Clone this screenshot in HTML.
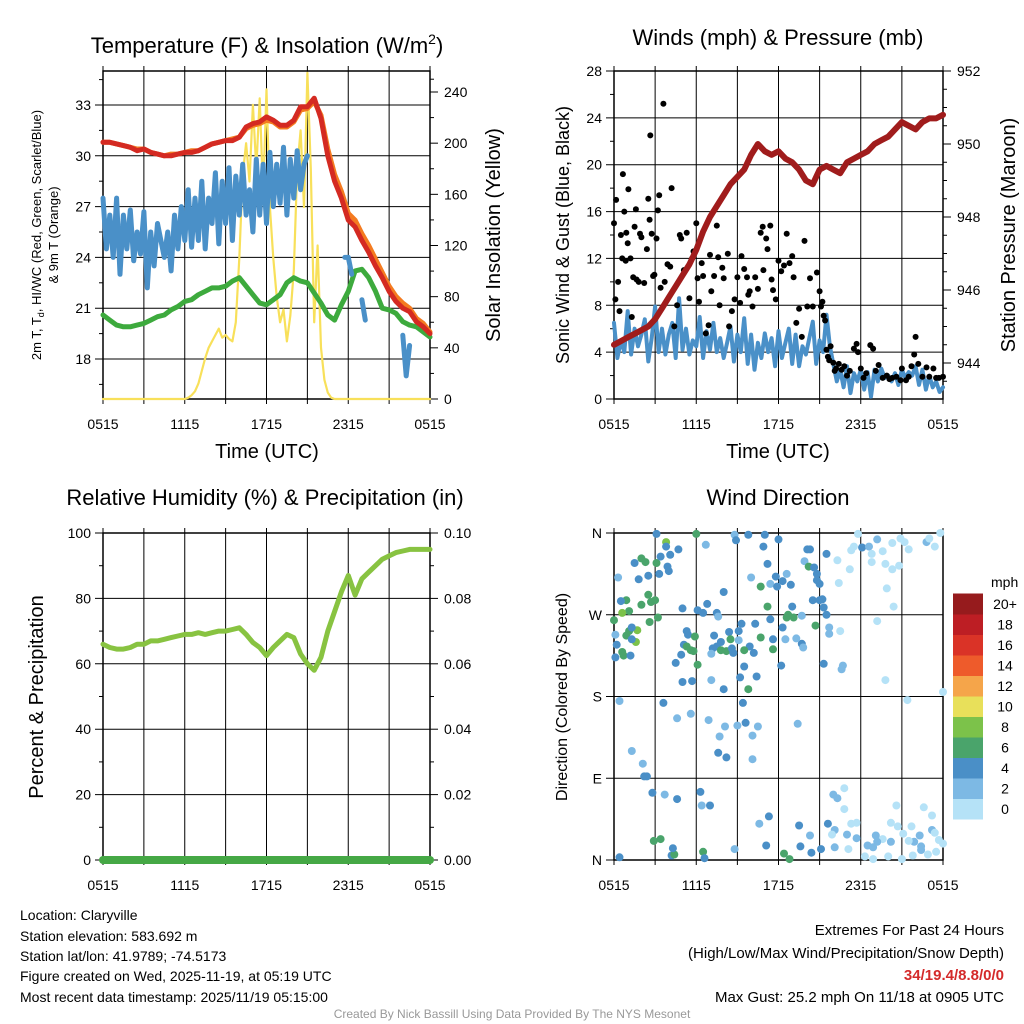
<!DOCTYPE html>
<html><head><meta charset="utf-8"><title>Mesonet Station Meteogram</title>
<style>
html,body{margin:0;padding:0;background:#fff;}
svg{display:block;font-family:"Liberation Sans",Arial,sans-serif;}
</style></head>
<body>
<svg id="chart" width="1024" height="1024" viewBox="0 0 1024 1024" xmlns="http://www.w3.org/2000/svg">
<rect x="0" y="0" width="1024" height="1024" fill="#fff"/>
<text x="267" y="53" font-size="22" text-anchor="middle">Temperature (F) &amp; Insolation (W/m<tspan font-size="14" dy="-9">2</tspan><tspan dy="9">)</tspan></text>
<text x="778" y="45" font-size="22" text-anchor="middle">Winds (mph) &amp; Pressure (mb)</text>
<text x="265" y="505" font-size="22" text-anchor="middle">Relative Humidity (%) &amp; Precipitation (in)</text>
<text x="778" y="505" font-size="22" text-anchor="middle">Wind Direction</text>

<text transform="translate(41,235) rotate(-90)" font-size="13" text-anchor="middle">2m T, T<tspan font-size="9" dy="3">d</tspan><tspan dy="-3">, HI/WC (Red, Green, Scarlet/Blue)</tspan></text>
<text transform="translate(58,235) rotate(-90)" font-size="13" text-anchor="middle">&amp; 9m T (Orange)</text>
<text transform="translate(500,235) rotate(-90)" font-size="20" text-anchor="middle">Solar Insolation (Yellow)</text>
<text transform="translate(569,235) rotate(-90)" font-size="18" text-anchor="middle">Sonic Wind &amp; Gust (Blue, Black)</text>
<text transform="translate(1015,235) rotate(-90)" font-size="20" text-anchor="middle">Station Pressure (Maroon)</text>
<text transform="translate(43,697) rotate(-90)" font-size="20" text-anchor="middle">Percent &amp; Precipitation</text>
<text transform="translate(567,697) rotate(-90)" font-size="16" text-anchor="middle">Direction (Colored By Speed)</text>
<text x="267" y="458" font-size="20" text-anchor="middle">Time (UTC)</text>
<text x="778" y="458" font-size="20" text-anchor="middle">Time (UTC)</text>

<g font-size="14">
<text x="20" y="920">Location: Claryville</text>
<text x="20" y="941">Station elevation: 583.692 m</text>
<text x="20" y="961">Station lat/lon: 41.9789; -74.5173</text>
<text x="20" y="981">Figure created on Wed, 2025-11-19, at 05:19 UTC</text>
<text x="20" y="1002">Most recent data timestamp: 2025/11/19 05:15:00</text>
</g>
<g font-size="15" text-anchor="end">
<text x="1004" y="935">Extremes For Past 24 Hours</text>
<text x="1004" y="958">(High/Low/Max Wind/Precipitation/Snow Depth)</text>
<text x="1004" y="980" fill="#d42a2a" font-weight="bold">34/19.4/8.8/0/0</text>
<text x="1004" y="1002">Max Gust: 25.2 mph On 11/18 at 0905 UTC</text>
</g>
<text x="512" y="1018" font-size="12" fill="#999" text-anchor="middle">Created By Nick Bassill Using Data Provided By The NYS Mesonet</text>
<g id="plots"></g>
</svg>
<script>
// ---------------- data ----------------
const timeTickLabels = ["0515","1115","1715","2315","0515"];
const tempTicks = [18,21,24,27,30,33];
const solarTicks = [0,40,80,120,160,200,240];
const windTicks = [0,4,8,12,16,20,24,28];
const pressTicks = [944,946,948,950,952];
const rhTicks = [0,20,40,60,80,100];
const precipTicks = [0,0.02,0.04,0.06,0.08,0.10];
const precipTickLabels = ["0.00","0.02","0.04","0.06","0.08","0.10"];
const dirTicks = [0,90,180,270,360];
const dirTickLabels = ["N","E","S","W","N"];
const speedBinLabels = ["0","2","4","6","8","10","12","14","16","18","20+"];
const speedBinColors = ["#b5e2f7","#7db9e4","#4a8fc7","#4aa46b","#7cc24a","#e8e05a","#f5a54a","#ee5b2b","#da3327","#bd1e24","#961b1d"];

// half-hourly series (49 values, hours 0..24)
const temp2m = [30.8,30.8,30.7,30.6,30.5,30.3,30.4,30.2,30.1,30.0,30.0,30.1,30.2,30.2,30.3,30.5,30.7,30.8,30.9,30.9,31.1,31.7,31.9,32.0,32.3,32.1,31.8,31.8,32.1,32.9,32.9,33.4,32.2,30.0,28.5,27.5,26.2,25.8,25.0,24.3,23.5,22.8,22.0,21.4,21.0,20.8,20.2,19.9,19.5];
const temp9m = [30.8,30.8,30.7,30.6,30.5,30.4,30.4,30.2,30.1,30.0,30.1,30.1,30.2,30.3,30.3,30.5,30.7,30.8,30.9,31.0,31.1,31.6,31.8,31.9,32.1,32.0,31.7,31.7,32.0,32.7,32.8,33.2,32.4,30.4,28.9,27.9,26.6,26.2,25.4,24.7,23.9,23.1,22.3,21.7,21.3,21.0,20.4,20.1,19.6];
const dewpoint = [20.6,20.3,20.0,19.9,19.9,20.0,20.1,20.3,20.5,20.6,20.9,21.1,21.4,21.5,21.8,22.0,22.2,22.2,22.3,22.6,22.8,22.3,21.8,21.3,21.2,21.5,21.8,22.5,22.8,22.6,22.5,21.9,21.3,20.6,20.3,21.2,22.0,23.2,23.3,22.8,22.0,21.0,20.9,20.7,20.2,20.0,19.9,19.6,19.3];
const pressure = [944.5,944.6,944.7,944.8,944.9,945.0,945.2,945.5,945.8,946.1,946.4,946.7,947.1,947.6,948.0,948.3,948.6,948.9,949.1,949.3,949.7,950.0,949.8,949.7,949.8,949.6,949.5,949.3,949.0,948.9,949.3,949.4,949.3,949.2,949.5,949.6,949.7,949.8,950.0,950.1,950.2,950.4,950.6,950.5,950.4,950.6,950.7,950.7,950.8];
const humidity = [66,65,64.5,64.5,65,66,66,67,67,67.5,68,68.5,69,69,69.5,69,69.5,70,70,70.5,71,69,66.5,65,62.5,65,67,69,68,63,60,58,62,70,76,82,87,81,86,88,90,92,93,94,94.5,95,95,95,95];
const precip = [0,0,0,0,0,0,0,0,0,0,0,0,0,0,0,0,0,0,0,0,0,0,0,0,0];

// quarter-hourly series (97 values)
const solar = [0,0,0,0,0,0,0,0,0,0,0,0,0,0,0,0,0,0,0,0,0,0,0,0,
 0,1,3,6,12,22,32,40,45,50,55,48,50,47,45,60,110,175,200,170,230,180,235,160,242,150,110,80,60,70,45,65,100,180,210,150,255,180,60,120,40,15,5,1,0,
 0,0,0,0,0,0,0,0,0,0,0,0,0,0,0,0,0,0,0,0,0,0,0,0,0,0,0,0];
const windChill = [27.5,24.5,26.5,24,27.5,23,26.5,24.5,26.8,23.8,25.5,24.2,26.7,22.2,25.5,23.5,
 26,25,24,25.5,23.2,26.5,24.5,27,25,28,24.6,27.5,25,28.5,24.5,27.5,
 26,29,24.8,28.5,26,29.3,25,28.8,26.5,29.5,26.5,28,25.5,29.8,26.5,29.5,
 26,30.2,27,29.5,27.2,30.5,26.5,29.8,27.5,30.3,28,29.5,30,null,28.5,null,
 28.7,null,null,null,26.5,null,null,24,24,23,null,null,21.5,20.3,null,null,
 null,null,null,null,null,null,null,null,19.4,17,18.8,null,null,null,null,null,null];
const sonicWind = [6.5,3.5,5,4,7.5,3.8,6,4.5,5.5,6.8,3.2,5.2,7.9,4,6,3.8,
 5.5,6.5,3.5,8.6,4.2,6,3.8,5,4.5,7,3.5,5.8,4.2,6.5,4,5.2,
 3.5,4.8,6.2,3.2,5.5,4,6.9,3,5.5,2.5,4.8,3.5,5.6,4,5.2,2.8,
 5.8,3.5,4.8,6,3,5.5,2.8,4.5,3.8,5.2,6.6,3,5,4,7.2,4.5,
 3,1.5,2.5,1,2.8,0.5,2.2,1.5,2.5,0.8,2.3,0.2,2.5,1.5,2.6,1.8,
 2,1.5,2.2,1.2,2.5,1.8,2.3,2,2.8,1.2,2.5,0.8,2,1,1.5,0.6,1];

// gusts
const gustHours = [0,0.1,0.15,0.3,0.4,0.5,0.6,0.65,0.75,0.85,0.9,1.0,1.05,1.2,1.3,1.4,1.5,1.6,1.65,1.8,1.9,2.0,2.2,2.4,2.5,2.6,2.65,2.75,2.85,2.95,3.1,3.2,3.3,3.4,3.6,3.7,3.9,4.1,4.2,4.4,4.6,4.8,4.9,5.1,5.3,5.5,5.7,5.8,6.0,6.1,6.2,6.4,6.5,6.7,6.9,7.0,7.1,7.3,7.5,7.6,7.7,7.9,8.0,8.3,8.4,8.6,8.8,9.0,9.2,9.3,9.5,9.7,9.8,9.9,10.1,10.3,10.5,10.7,10.85,10.9,11.1,11.2,11.4,11.5,11.6,11.8,12.0,12.2,12.4,12.6,12.8,13.0,13.1,13.3,13.5,13.7,13.9,14.1,14.3,14.5,14.8,15.0,15.1,15.2,15.3,15.4,15.5,15.6,15.7,15.8,16.0,16.1,16.2,16.4,16.6,16.8,17.0,17.2,17.5,17.7,17.8,18.0,18.2,18.4,18.7,18.9,19.1,19.3,19.6,19.9,20.1,20.3,20.6,20.9,21.0,21.3,21.5,21.7,21.9,22.0,22.2,22.5,22.8,23.0,23.3,23.5,23.7,24];
const gustValues = [15,8.5,17,10,7.5,14,12,19.2,16,11.8,14.2,13.3,17.9,12,7,10.4,14.7,16.2,10.2,10,14.1,13.8,9.9,12.8,17.1,15.3,22.5,14.1,10.5,10.6,13.7,16.1,17.4,9.5,25.2,10,11.5,11.3,18,6.2,8,14,13.7,11,14.2,8.6,12,12.6,15,10.3,8.3,11.6,10.5,5.6,6.3,12.3,9.2,10.5,14.8,12.1,8,11.2,10.3,12.4,6.2,7.5,8.5,10.4,8.2,12.2,11.1,10.4,8.9,9.2,7.9,10.4,9.4,14.2,14.7,11,13.7,12.8,14.8,10.2,9.3,8.5,11.8,10.9,11.4,14.1,11.6,12.2,10.4,6.5,7.7,5.3,13.5,7.9,10.3,7.9,10.8,9.2,7.9,8.3,7.1,6.7,4.2,3.6,3.3,4.5,3.1,2.4,2.6,3.0,2.5,2.8,2.0,2.4,4.3,4.7,4.0,2.6,1.8,2.2,4.6,4.3,2.4,2.9,1.8,2.0,1.7,1.8,1.9,1.6,2.6,1.6,1.9,2.8,3.8,5.3,3.0,1.9,2.7,1.9,2.6,1.8,1.8,1.9];

// wind direction scatter
const dirHours = [3.1,3.8,3.8,4.7,1.5,2.0,2.3,3.1,3.4,4.1,3.9,4.0,3.3,2.5,1.8,0.3,2.5,2.7,3.0,2.0,0.9,0.5,1.1,0.6,0.0,2.6,3.2,0.1,0.2,0.1,0.9,1.1,1.7,1.6,1.3,1.3,0.6,0.7,1.2,6.0,6.7,8.8,8.9,9.8,11.0,10.9,12.0,11.2,10.0,10.7,11.8,11.4,11.9,12.3,12.6,12.9,13.9,14.1,14.3,14.2,14.6,14.8,14.8,15.0,15.5,16.3,16.4,17.2,17.8,17.5,17.3,18.1,18.6,18.8,18.8,19.2,19.6,19.8,20.3,20.3,20.8,20.9,21.2,21.5,22.8,23.0,23.4,23.8,19.9,20.4,19.2,8.0,5.0,6.1,6.5,6.8,7.5,7.6,11.2,11.4,12.6,12.7,13.0,13.1,13.7,12.3,12.5,14.5,15.0,15.2,15.3,15.5,14.7,15.7,15.7,16.5,5.3,5.4,5.1,5.3,5.6,5.9,5.8,4.9,4.5,6.1,5.0,5.7,7.3,7.8,7.5,7.2,8.4,8.5,7.8,8.2,8.6,8.7,7.1,9.1,9.1,9.3,10.3,10.7,11.6,9.9,9.5,10.2,11.6,13.7,13.8,13.3,9.5,9.2,10.4,9.8,8.0,7.1,12.2,15.3,16.7,16.6,19.8,24.0,21.4,0.4,3.6,9.4,9.6,10.5,9.0,8.1,7.7,6.9,5.6,4.6,13.4,10.1,10.1,7.6,8.2,1.3,2.1,2.2,2.4,2.8,3.7,4.6,6.3,6.4,7.0,10.6,11.3,13.5,14.3,15.6,16.0,16.3,16.8,16.8,16.1,15.9,17.0,17.3,17.7,17.7,20.6,20.2,20.7,21.7,22.6,23.2,23.2,23.4,23.7,24.0,23.5,22.9,22.3,21.9,22.4,22.4,21.5,21.1,20.2,19.6,19.2,19.1,18.9,18.5,18.3,18.9,20.0,21.0,21.8,17.1,16.1,15.1,14.4,13.6,12.4,12.8,11.1,8.8,6.5,6.6,4.2,4.4,4.3,2.9,3.4,0.4];
const dirDegrees = [359,350,345,342,327,332,328,327,334,336,323,318,315,313,309,311,292,284,286,281,286,285,274,272,264,262,267,248,237,223,247,252,253,240,256,243,229,225,225,359,347,358,352,358,358,345,353,326,311,301,312,304,301,307,315,303,329,342,342,323,322,315,308,304,337,330,305,320,359,345,341,344,345,337,328,353,340,326,349,320,324,354,350,342,350,354,345,360,299,279,263,295,277,275,272,282,272,268,279,265,267,270,279,267,269,256,243,286,286,287,278,270,258,256,249,252,252,248,237,235,231,246,230,226,217,215,196,197,247,240,235,233,251,243,231,230,233,228,227,242,252,260,260,245,243,235,231,228,232,238,234,244,213,201,202,188,188,198,214,216,214,210,198,185,176,175,173,173,151,147,148,147,136,154,161,156,150,137,111,118,113,120,106,92,92,74,72,67,75,60,60,40,48,38,27,40,72,68,79,56,33,28,28,40,41,24,60,41,37,37,58,49,33,30,22,18,9,6,27,20,15,11,21,29,20,23,20,27,14,16,4,1,4,1,5,12,14,12,8,15,7,1,16,12,9,2,5,6,13,21,23,3];
const dirBins = [2,4,2,2,2,3,3,3,2,2,2,2,2,2,2,1,3,3,3,3,3,2,3,4,3,3,3,1,2,2,3,3,4,4,2,2,3,3,2,3,1,1,2,2,2,2,2,2,1,3,2,1,2,2,1,2,1,2,2,3,2,2,2,2,2,0,0,0,0,0,0,2,1,0,0,1,0,0,0,0,0,0,0,0,1,0,0,0,0,0,0,2,2,2,2,2,2,1,3,2,3,3,2,3,1,2,1,2,2,2,2,2,3,1,1,0,2,2,2,3,3,3,3,2,2,3,2,2,2,2,2,2,2,3,3,3,2,2,1,1,2,2,2,3,2,2,3,2,3,2,1,1,2,2,2,3,2,1,2,2,1,1,0,0,0,1,2,2,2,1,1,1,1,1,1,1,1,1,1,2,2,1,1,2,2,2,1,2,2,1,2,1,2,2,1,2,1,1,0,0,1,0,1,0,0,1,0,0,0,0,0,0,1,0,0,0,0,0,1,1,1,1,0,0,1,0,1,1,1,1,0,0,0,0,0,0,1,2,2,2,3,3,2,1,3,2,2,3,2,3,3,2];

// ---------------- drawing ----------------
const NS = "http://www.w3.org/2000/svg";
const root = document.getElementById("plots");
function mk(tag, attrs, parent) {
  const e = document.createElementNS(NS, tag);
  for (const k in attrs) e.setAttribute(k, attrs[k]);
  (parent || root).appendChild(e);
  return e;
}
function txt(s, x, y, size, anchor, parent) {
  const t = mk("text", {x: x, y: y, "font-size": size, "text-anchor": anchor}, parent);
  t.textContent = s;
  return t;
}
function hourScale(x0, x1) { return h => x0 + h * (x1 - x0) / 24; }
function linScale(d0, d1, r0, r1) { return v => r0 + (v - d0) * (r1 - r0) / (d1 - d0); }

function pathFrom(vals, step, xs, ys) {
  let d = "", pen = false;
  vals.forEach((v, i) => {
    if (v === null || v === undefined) { pen = false; return; }
    d += (pen ? "L" : "M") + xs(i * step).toFixed(1) + " " + ys(v).toFixed(1);
    pen = true;
  });
  return d;
}
function series(vals, step, xs, ys, color, width, name, parent) {
  const p = mk("path", {d: pathFrom(vals, step, xs, ys), fill: "none", stroke: color, "stroke-width": width, "stroke-linejoin": "round", "stroke-linecap": "round"}, parent);
  
  
  return p;
}

function frame(name, x0, y0, x1, y1, xs, leftTicks, leftScale, leftLabels, rightTicks, rightScale, rightLabels, leftMinor, rightMinor) {
  const g = mk("g", {});
  
  
  for (let h = 0; h <= 24; h += 3) {
    const x = xs(h);
    const l = mk("line", {x1: x, y1: y0 - 5, x2: x, y2: y1 + 5, stroke: "#000", "stroke-width": 1}, g);
    
    
  }
  timeTickLabels.forEach((s, i) => {
    const t = txt(s, xs(i * 6), y1 + 30, 14, "middle", g);
    
    
  });
  leftTicks.forEach((v, i) => {
    const y = leftScale(v);
    const l = mk("line", {x1: x0 - 8, y1: y, x2: x1, y2: y, stroke: "#000", "stroke-width": 1}, g);
    
    
    const t = txt(leftLabels[i], x0 - 12, y + 5, 14, "end", g);
    
    
  });
  (leftMinor || []).forEach(v => {
    const y = leftScale(v);
    mk("line", {x1: x0 - 4, y1: y, x2: x0, y2: y, stroke: "#000", "stroke-width": 1}, g);
  });
  if (rightTicks) {
    rightTicks.forEach((v, i) => {
      const y = rightScale(v);
      mk("line", {x1: x1, y1: y, x2: x1 + 8, y2: y, stroke: "#000", "stroke-width": 1}, g);
      const t = txt(rightLabels[i], x1 + 14, y + 5, 14, "start", g);
      
      
    });
    (rightMinor || []).forEach(v => {
      const y = rightScale(v);
      mk("line", {x1: x1, y1: y, x2: x1 + 4, y2: y, stroke: "#000", "stroke-width": 1}, g);
    });
  }
  const b = mk("rect", {x: x0, y: y0, width: x1 - x0, height: y1 - y0, fill: "none", stroke: "#000", "stroke-width": 1.5}, g);
  
  
  return g;
}

// ---- Panel 1: temperature ----
const x1s = hourScale(103, 430);
const yT = linScale(33, 18, 105, 359);
const yS = linScale(0, 240, 399, 92);
frame("temperature-panel", 103, 71, 430, 399, x1s, tempTicks, yT, tempTicks.map(String), solarTicks, yS, solarTicks.map(String),
  [16.5,19.5,22.5,25.5,28.5,31.5,34.5], [20,60,100,140,180,220,250]);
series(solar, 0.25, x1s, yS, "#f8e05a", 2.2, "solar-insolation-line");
series(dewpoint, 0.5, x1s, yT, "#3daa3d", 5, "dewpoint-line");
series(windChill, 0.25, x1s, yT, "#4a90c8", 5, "wind-chill-line");
series(temp9m, 0.5, x1s, yT, "#f47b20", 5, "temp-9m-line");
series(temp2m, 0.5, x1s, yT, "#d42a22", 5, "temp-2m-line");

// ---- Panel 2: winds & pressure ----
const x2s = hourScale(614, 943);
const yW = linScale(0, 28, 399, 71);
const yP = linScale(944, 952, 363, 71);
frame("wind-panel", 614, 71, 943, 399, x2s, windTicks, yW, windTicks.map(String), pressTicks, yP, pressTicks.map(String),
  [2,6,10,14,18,22,26], [943.5,944.5,945,945.5,946.5,947,947.5,948.5,949,949.5,950.5,951,951.5]);
series(sonicWind, 0.25, x2s, yW, "#4a90c8", 4, "sonic-wind-line");
gustHours.forEach((h, i) => {
  const c = mk("circle", {cx: x2s(h).toFixed(1), cy: yW(gustValues[i]).toFixed(1), r: 3, fill: "#000"});
  
  
});
series(pressure, 0.5, x2s, yP, "#a01c1c", 6, "pressure-line");

// ---- Panel 3: humidity & precip ----
const yRH = linScale(0, 100, 860, 533);
const yPr = linScale(0, 0.1, 860, 533);
frame("humidity-panel", 103, 533, 430, 860, x1s, rhTicks, yRH, rhTicks.map(String), precipTicks, yPr, precipTickLabels,
  [10,30,50,70,90], [0.01,0.03,0.05,0.07,0.09]);
series(humidity, 0.5, x1s, yRH, "#88c341", 5, "humidity-line");
series(precip, 1, x1s, yPr, "#45a845", 8, "precipitation-line");

// ---- Panel 4: wind direction ----
const yD = linScale(0, 360, 860, 533);
frame("wind-direction-panel", 614, 533, 943, 860, x2s, dirTicks, yD, dirTickLabels, null, null, null, [], []);
dirHours.forEach((h, i) => {
  const c = mk("circle", {cx: x2s(h).toFixed(1), cy: yD(dirDegrees[i]).toFixed(1), r: 4, fill: speedBinColors[dirBins[i]]});
  
  
});

// ---- colorbar legend ----
const lg = mk("g", {});


const lt = txt("mph", 991, 587, 14, "start", lg);


const binH = 20.5, barBottom = 819;
speedBinColors.forEach((col, i) => {
  const r = mk("rect", {x: 953, y: barBottom - (i + 1) * binH, width: 30, height: binH + 0.5, fill: col}, lg);
  
  
  const t = txt(speedBinLabels[i], 1005, barBottom - i * binH - binH / 2 + 5, 14, "middle", lg);
  
  
});
</script>
</body></html>
